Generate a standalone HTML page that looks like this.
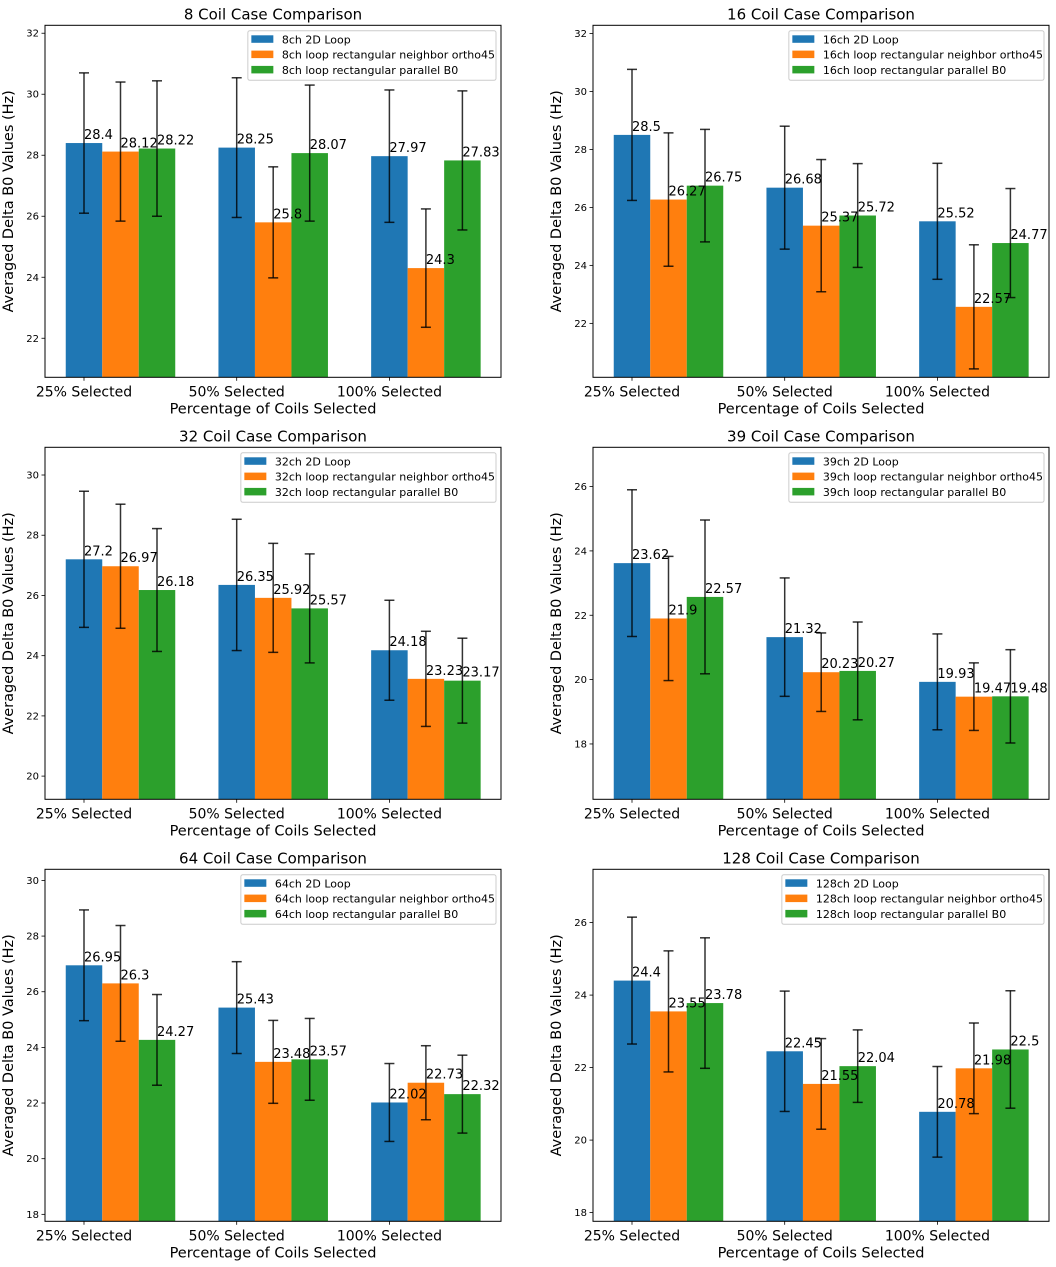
<!DOCTYPE html>
<html><head><meta charset="utf-8"><style>
body{margin:0;background:#fff;}
svg{display:block;font-family:"DejaVu Sans","Liberation Sans",sans-serif;}
</style></head><body>
<svg id="fig" width="1056" height="1267" xmlns="http://www.w3.org/2000/svg"></svg>
<script>
const categories = ["25% Selected","50% Selected","100% Selected"];
const panelTitles = ["8 Coil Case Comparison","16 Coil Case Comparison","32 Coil Case Comparison","39 Coil Case Comparison","64 Coil Case Comparison","128 Coil Case Comparison"];
const channelNames = ["8ch","16ch","32ch","39ch","64ch","128ch"];
const seriesSuffixes = [" 2D Loop"," loop rectangular neighbor ortho45"," loop rectangular parallel B0"];
const loop2dValues = [[28.4,28.25,27.97],[28.5,26.68,25.52],[27.2,26.35,24.18],[23.62,21.32,19.93],[26.95,25.43,22.02],[24.4,22.45,20.78]];
const ortho45Values = [[28.12,25.8,24.3],[26.27,25.37,22.57],[26.97,25.92,23.23],[21.9,20.23,19.47],[26.3,23.48,22.73],[23.55,21.55,21.98]];
const parallelValues = [[28.22,28.07,27.83],[26.75,25.72,24.77],[26.18,25.57,23.17],[22.57,20.27,19.48],[24.27,23.57,22.32],[23.78,22.04,22.5]];
const loop2dErr = [[2.30,2.29,2.17],[2.26,2.12,2.0],[2.26,2.18,1.66],[2.28,1.84,1.49],[1.99,1.65,1.40],[1.75,1.66,1.25]];
const ortho45Err = [[2.28,1.82,1.94],[2.30,2.28,2.14],[2.06,1.81,1.58],[1.93,1.22,1.05],[2.08,1.49,1.33],[1.67,1.25,1.25]];
const parallelErr = [[2.22,2.23,2.28],[1.94,1.79,1.88],[2.04,1.81,1.41],[2.39,1.52,1.45],[1.63,1.47,1.40],[1.80,1.0,1.62]];
const yLimits = [[20.72,32.26],[20.14,32.28],[19.23,30.92],[16.28,27.22],[17.75,30.40],[17.76,27.47]];
const colors = ["#1f77b4","#ff7f0e","#2ca02c"];

const NS="http://www.w3.org/2000/svg";
const fig=document.getElementById('fig');
function mk(tag,attrs,parent,text){const e=document.createElementNS(NS,tag);for(const k in attrs)e.setAttribute(k,attrs[k]);if(text!==undefined)e.textContent=text;(parent||fig).appendChild(e);return e;}

for(let p=0;p<6;p++){
  const col=p%2,row=Math.floor(p/2);
  const L=col?593:45,R=L+456,T=25.3+row*422,B=T+352;
  const [y0,y1]=yLimits[p];
  const yS=v=>B-(v-y0)/(y1-y0)*(B-T);
  const xS=i=>L+39+152.7*i;
  const bw=36.5;
  const g=mk('g',{});
  
  
  const vals=[loop2dValues[p],ortho45Values[p],parallelValues[p]];
  const errs=[loop2dErr[p],ortho45Err[p],parallelErr[p]];
  for(let s=0;s<3;s++){
    for(let i=0;i<3;i++){
      const cx=xS(i)+s*bw;
      const r=mk('rect',{x:cx-bw/2,y:yS(vals[s][i]),width:bw,height:B-yS(vals[s][i]),fill:colors[s]},g);
      
      
    }
  }
  for(let s=0;s<3;s++){
    for(let i=0;i<3;i++){
      const cx=xS(i)+s*bw,v=vals[s][i],e=errs[s][i];
      const yt=yS(v+e),yb=yS(v-e);
      const eg=mk('g',{stroke:'#000','stroke-opacity':0.8,'stroke-width':1.5},g);
      
      
      mk('line',{x1:cx,x2:cx,y1:yt,y2:yb},eg);
      mk('line',{x1:cx-5,x2:cx+5,y1:yt,y2:yt},eg);
      mk('line',{x1:cx-5,x2:cx+5,y1:yb,y2:yb},eg);
      const t=mk('text',{x:cx,y:yS(v)-4,'font-size':13,fill:'#000'},g,String(v));
      
      
    }
  }
  // frame
  const fr=mk('rect',{x:L,y:T,width:456,height:352,fill:'none',stroke:'#000','stroke-width':1},g);
  
  
  // y ticks
  for(let v=Math.ceil(y0/2)*2;v<=y1;v+=2){
    const y=yS(v);
    mk('line',{x1:L-3.5,x2:L,y1:y,y2:y,stroke:'#000','stroke-width':0.8},g);
    const t=mk('text',{x:L-6,y:y+3.5,'font-size':10,'text-anchor':'end',fill:'#000'},g,String(v));
    
    
  }
  // x ticks
  for(let i=0;i<3;i++){
    const x=xS(i);
    mk('line',{x1:x,x2:x,y1:B,y2:B+3.5,stroke:'#000','stroke-width':0.8},g);
    const t=mk('text',{x:x,y:B+19,'font-size':14,'text-anchor':'middle',fill:'#000'},g,categories[i]);
    
    
  }
  const ti=mk('text',{x:(L+R)/2,y:T-6,'font-size':15,'text-anchor':'middle',fill:'#000'},g,panelTitles[p]);
  
  
  const xl=mk('text',{x:(L+R)/2,y:B+36,'font-size':14.5,'text-anchor':'middle',fill:'#000'},g,'Percentage of Coils Selected');
  
  
  const yx=L-32,yy=(T+B)/2;
  const yl=mk('text',{x:yx,y:yy,'font-size':14.5,'text-anchor':'middle',fill:'#000',transform:`rotate(-90 ${yx} ${yy})`},g,'Averaged Delta B0 Values (Hz)');
  
  
  // legend
  const lg=mk('g',{},g);
  
  
  const box=mk('rect',{x:0,y:T+5.5,width:10,height:49.5,fill:'#fff','fill-opacity':0.8,stroke:'#ccc',rx:2},lg);
  let maxW=0;const texts=[];
  for(let s=0;s<3;s++){
    const t=mk('text',{x:0,y:T+18+s*15.3,'font-size':11,fill:'#000'},lg,channelNames[p]+seriesSuffixes[s]);
    
    
    texts.push(t);maxW=Math.max(maxW,t.getComputedTextLength());
  }
  const bxR=R-5,bxL=bxR-(maxW+35);
  box.setAttribute('x',bxL);box.setAttribute('width',maxW+35);
  for(let s=0;s<3;s++){
    texts[s].setAttribute('x',bxL+34);
    const sw=mk('rect',{x:bxL+3.5,y:T+10+s*15.3,width:22,height:7.5,fill:colors[s]},lg);
    
    
  }
}
</script>
</body></html>
